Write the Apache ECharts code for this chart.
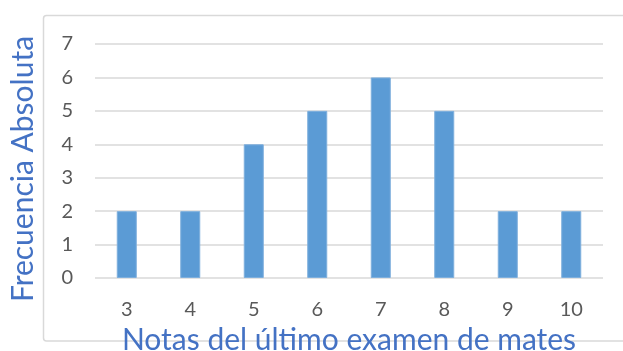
<!DOCTYPE html>
<html><head><meta charset="utf-8">
<script src="https://cdn.jsdelivr.net/npm/echarts@6/dist/echarts.min.js"></script>
<style>html,body{margin:0;padding:0;background:#fff}#c{width:623px;height:351px}</style>
</head><body><div id="c"></div>
<script>
const categories = ['3','4','5','6','7','8','9','10'];
const frecuencia = [2,2,4,5,6,5,2,2];
const yTicks = {min:0,max:7,interval:1};
const xTitle = 'Notas del último examen de mates';
const yTitle = 'Frecuencia Absoluta';

const chart = echarts.init(document.getElementById('c'));
chart.setOption({
  animation:false,
  graphic:[{type:'rect',shape:{x:43.5,y:15.5,width:640,height:325.5,r:3},style:{fill:'none',stroke:'#D9D9D9',lineWidth:1.5},z:-1}],
  grid:{left:95,right:20,top:44,bottom:73,outerBoundsMode:'none',containLabel:false},
  xAxis:{type:'category',data:categories,
    axisLine:{show:false},axisTick:{show:false},
    axisLabel:{color:'#595959',fontFamily:'Lato',fontSize:20,margin:22},
    name:xTitle,nameLocation:'middle',nameGap:44,
    nameTextStyle:{color:'#4472C4',fontFamily:'Lato',fontSize:30,verticalAlign:'top'}},
  yAxis:{type:'value',min:yTicks.min,max:yTicks.max,interval:yTicks.interval,
    axisLine:{show:false},axisTick:{show:false},
    splitLine:{lineStyle:{color:'#D9D9D9',width:1.5}},
    axisLabel:{color:'#595959',fontFamily:'Lato',fontSize:20,margin:22},
    name:yTitle,nameLocation:'middle',nameGap:57,
    nameTextStyle:{color:'#4472C4',fontFamily:'Lato',fontSize:30,padding:[0,16,0,0]}},
  series:[{type:'bar',data:frecuencia,barWidth:20,
    itemStyle:{color:'#5B9BD5',borderColor:'#7EAFDD',borderWidth:1}}]
});
</script></body></html>
